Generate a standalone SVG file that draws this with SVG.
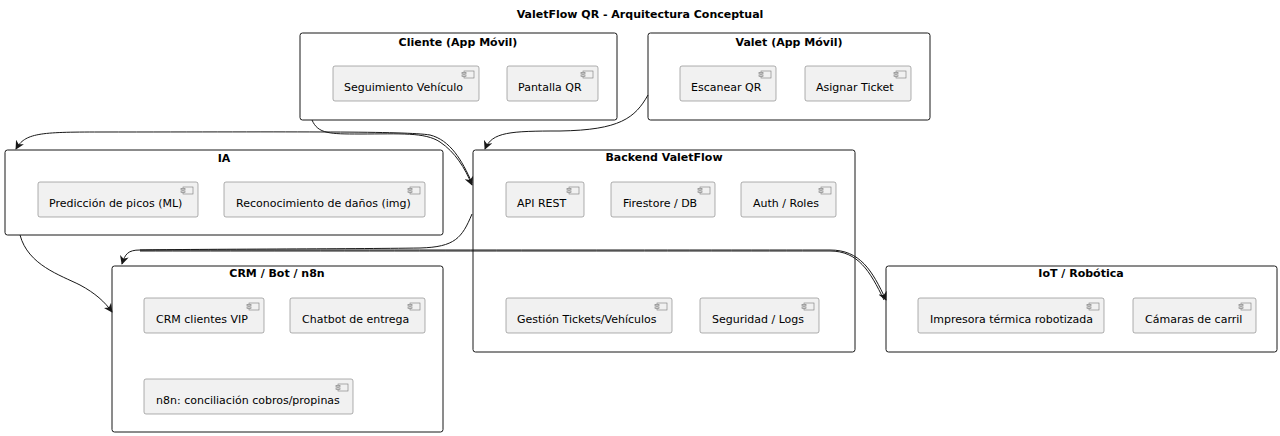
<svg xmlns="http://www.w3.org/2000/svg" width="1280" height="436" viewBox="0 0 1280 436">
<defs>
<style>
.t{font-family:"DejaVu Sans",sans-serif;font-size:11px;fill:#000}
.b{font-family:"DejaVu Sans",sans-serif;font-size:11px;font-weight:bold;fill:#000;text-anchor:middle}
.pk{fill:#fff;stroke:#181818;stroke-width:1}
.cp{fill:#f1f1f1;stroke:#7a7a7a;stroke-width:0.6}
.ic{fill:#f1f1f1;stroke:#7a7a7a;stroke-width:0.6}
.e{fill:none;stroke:#181818;stroke-width:1}
</style>
<marker id="ah" viewBox="0 0 10 10" refX="9" refY="5" markerWidth="9" markerHeight="9" orient="auto-start-reverse" markerUnits="userSpaceOnUse">
<path d="M0,0 L10,5 L0,10 L3,5 Z" fill="#181818"/>
</marker>
<g id="icon"><rect class="ic" x="0" y="0" width="10" height="7"/><rect class="ic" x="-2" y="1.5" width="4" height="1.4"/><rect class="ic" x="-2" y="4" width="4" height="1.4"/></g>
</defs>
<rect width="1280" height="436" fill="#fff"/>
<text class="b" x="640" y="18">ValetFlow QR - Arquitectura Conceptual</text>

<g id="cliente">
<rect class="pk" x="300" y="33" width="317" height="87" rx="2.5"/>
<text class="b" x="458" y="46">Cliente (App Móvil)</text>
<g id="seguimiento"><rect class="cp" x="333" y="66" width="146" height="35" rx="2"/><use href="#icon" x="464" y="71"/><text class="t" x="344" y="91">Seguimiento Vehículo</text></g>
<g id="pantalla"><rect class="cp" x="507" y="66" width="91" height="35" rx="2"/><use href="#icon" x="583" y="71"/><text class="t" x="518" y="91">Pantalla QR</text></g>
</g>

<g id="valet">
<rect class="pk" x="648" y="33" width="282" height="87" rx="2.5"/>
<text class="b" x="789" y="46">Valet (App Móvil)</text>
<g id="escanear"><rect class="cp" x="680" y="66" width="96" height="35" rx="2"/><use href="#icon" x="761" y="71"/><text class="t" x="691" y="91">Escanear QR</text></g>
<g id="asignar"><rect class="cp" x="805" y="66" width="106" height="35" rx="2"/><use href="#icon" x="896" y="71"/><text class="t" x="816" y="91">Asignar Ticket</text></g>
</g>

<g id="ia">
<rect class="pk" x="5" y="150" width="438" height="85" rx="2.5"/>
<text class="b" x="224" y="162">IA</text>
<g id="prediccion"><rect class="cp" x="38" y="182" width="160" height="35" rx="2"/><use href="#icon" x="183" y="187"/><text class="t" x="49" y="207">Predicción de picos (ML)</text></g>
<g id="reconocimiento"><rect class="cp" x="224" y="182" width="201" height="35" rx="2"/><use href="#icon" x="410" y="187"/><text class="t" x="236" y="207">Reconocimiento de daños (img)</text></g>
</g>

<g id="backend">
<rect class="pk" x="473" y="150" width="382" height="202" rx="2.5"/>
<text class="b" x="664" y="161">Backend ValetFlow</text>
<g id="api"><rect class="cp" x="506" y="182" width="78" height="35" rx="2"/><use href="#icon" x="569" y="187"/><text class="t" x="517" y="207">API REST</text></g>
<g id="firestore"><rect class="cp" x="611" y="182" width="104" height="35" rx="2"/><use href="#icon" x="700" y="187"/><text class="t" x="623" y="207">Firestore / DB</text></g>
<g id="auth"><rect class="cp" x="741" y="182" width="95" height="35" rx="2"/><use href="#icon" x="821" y="187"/><text class="t" x="753" y="207">Auth / Roles</text></g>
<g id="gestion"><rect class="cp" x="506" y="298" width="166" height="35" rx="2"/><use href="#icon" x="657" y="303"/><text class="t" x="517" y="323">Gestión Tickets/Vehículos</text></g>
<g id="seguridad"><rect class="cp" x="700" y="298" width="119" height="35" rx="2"/><use href="#icon" x="804" y="303"/><text class="t" x="712" y="323">Seguridad / Logs</text></g>
</g>

<g id="crm">
<rect class="pk" x="112" y="266" width="331" height="166" rx="2.5"/>
<text class="b" x="277" y="277">CRM / Bot / n8n</text>
<g id="crmvip"><rect class="cp" x="144" y="298" width="120" height="35" rx="2"/><use href="#icon" x="249" y="303"/><text class="t" x="156" y="323">CRM clientes VIP</text></g>
<g id="chatbot"><rect class="cp" x="290" y="298" width="135" height="35" rx="2"/><use href="#icon" x="410" y="303"/><text class="t" x="302" y="323">Chatbot de entrega</text></g>
<g id="n8n"><rect class="cp" x="144" y="379" width="209" height="35" rx="2"/><use href="#icon" x="338" y="384"/><text class="t" x="156" y="404">n8n: conciliación cobros/propinas</text></g>
</g>

<g id="iot">
<rect class="pk" x="886" y="266" width="391" height="86" rx="2.5"/>
<text class="b" x="1081" y="277">IoT / Robótica</text>
<g id="impresora"><rect class="cp" x="918" y="298" width="186" height="35" rx="2"/><use href="#icon" x="1089" y="303"/><text class="t" x="930" y="323">Impresora térmica robotizada</text></g>
<g id="camaras"><rect class="cp" x="1133" y="298" width="123" height="35" rx="2"/><use href="#icon" x="1241" y="303"/><text class="t" x="1145" y="323">Cámaras de carril</text></g>
</g>

<g id="connectors">
<path class="e" marker-end="url(#ah)" d="M312,120 C318,134 330,134 360,134 C400,134 425,132 440,142 C455,152 465,168 472,185"/>
<path class="e" marker-end="url(#ah)" d="M472,183 C462,160 450,140 430,135 C405,131 300,132 100,132 C40,132 25,133 16,149"/>
<path class="e" marker-end="url(#ah)" d="M648,95 C635,118 620,130 560,131 C510,131 492,132 485,149"/>
<path class="e" marker-end="url(#ah)" d="M472,214 C462,238 455,247 420,248 C350,249 200,249 140,250 C128,250 125,254 122,264"/>
<path class="e" marker-end="url(#ah)" d="M140,250 C300,250 700,250 830,250 C860,250 872,270 886,300"/>
<path class="e" d="M140,251 C300,251 700,251 830,251 C858,251 870,271 884,300"/>
<path class="e" marker-end="url(#ah)" d="M20,235 C28,265 60,275 80,285 C95,293 105,302 112,312"/>
</g>
</svg>
